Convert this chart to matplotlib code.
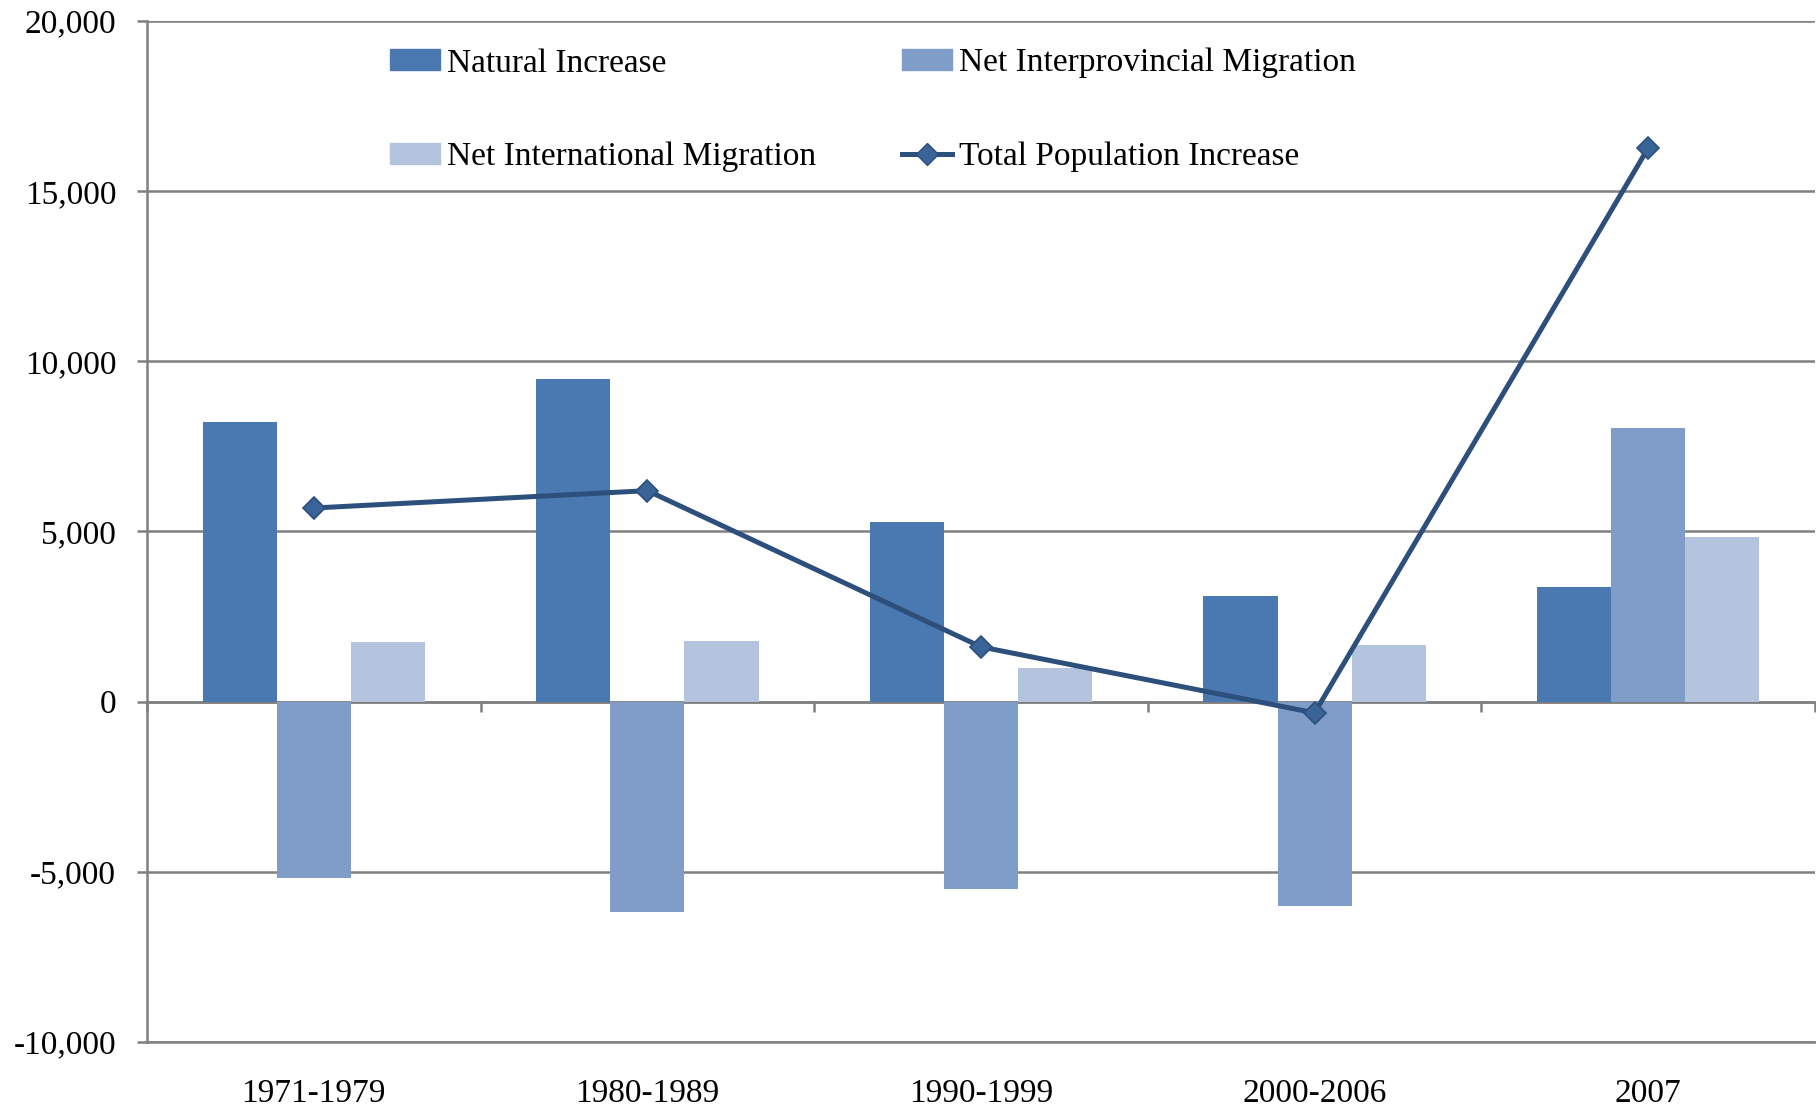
import numpy as np
import matplotlib.pyplot as plt
from matplotlib.patches import Patch
from matplotlib.lines import Line2D
from matplotlib.ticker import FuncFormatter

plt.rcParams['font.family'] = ['Liberation Serif', 'DejaVu Serif']

periods = ["1971-1979", "1980-1989", "1990-1999", "2000-2006", "2007"]
natural = [8220, 9480, 5290, 3110, 3360]
interprov = [-5180, -6170, -5490, -5990, 8050]
international = [1740, 1770, 990, 1670, 4840]
total = [5690, 6200, 1610, -330, 16270]

c_nat = "#4A78B0"
c_inter = "#7F9DC8"
c_intl = "#B5C4DE"
c_line = "#2C4F7C"
c_mark = "#3A6497"
grid_c = "#808080"
fs = 24

fig = plt.figure(figsize=(18.16, 11.10), dpi=100)
ax = fig.add_axes([147 / 1816, 1 - 1042 / 1110, (1815 - 147) / 1816, (1042 - 21) / 1110])

x = np.arange(len(periods))
w = 2 / 9
ax.bar(x - w, natural, w, color=c_nat, zorder=3)
ax.bar(x, interprov, w, color=c_inter, zorder=3)
ax.bar(x + w, international, w, color=c_intl, zorder=3)
ax.plot(x, total, "-", color=c_line, lw=3.6, marker="D", ms=11,
        mfc=c_mark, mec=c_line, mew=1.2, zorder=4)

ax.set_xlim(-0.5, len(periods) - 0.5)
ax.set_ylim(-10000, 20000)
ax.set_yticks(np.arange(-10000, 20001, 5000))
ax.yaxis.set_major_formatter(FuncFormatter(lambda v, p: f"{int(v):,}"))
ax.grid(axis="y", color=grid_c, lw=1.8, zorder=1)
ax.set_axisbelow(True)

for s in ["top", "right"]:
    ax.spines[s].set_visible(False)
ax.spines["left"].set_color(grid_c)
ax.spines["left"].set_linewidth(1.8)
ax.spines["bottom"].set_color(grid_c)
ax.spines["bottom"].set_linewidth(1.8)

ax.tick_params(axis="y", direction="out", length=7.2, width=1.8, color=grid_c,
               labelsize=fs, pad=15)
ax.set_xticks(x)
ax.set_xticklabels(periods)
ax.tick_params(axis="x", length=0, labelsize=fs, pad=26)

# zero line with category separators
sec = ax.secondary_xaxis(1 / 3)
sec.set_xticks(np.arange(len(periods) + 1) - 0.5)
sec.set_xticklabels([])
sec.tick_params(axis="x", direction="out", length=7.2, width=1.8, color=grid_c)
sec.spines["bottom"].set_color(grid_c)
sec.spines["bottom"].set_linewidth(1.8)

h_nat = Patch(color=c_nat)
h_inter = Patch(color=c_inter)
h_intl = Patch(color=c_intl)
h_tot = Line2D([], [], color=c_line, lw=3.6, marker="D", ms=11, mfc=c_mark, mec=c_line)

kw = dict(frameon=False, fontsize=fs, handlelength=1.5, handleheight=0.6,
          handletextpad=0.2, labelspacing=1.9, borderpad=0, borderaxespad=0,
          loc="upper left", bbox_transform=fig.transFigure)
leg1 = ax.legend([h_nat, h_intl], ["Natural Increase", "Net International Migration"],
                 bbox_to_anchor=(390 / 1816, 1 - 48 / 1110), **kw)
ax.add_artist(leg1)
ax.legend([h_inter, h_tot], ["Net Interprovincial Migration", "Total Population Increase"],
          bbox_to_anchor=(902 / 1816, 1 - 48 / 1110), **kw)

plt.savefig("out.png", dpi=100)
